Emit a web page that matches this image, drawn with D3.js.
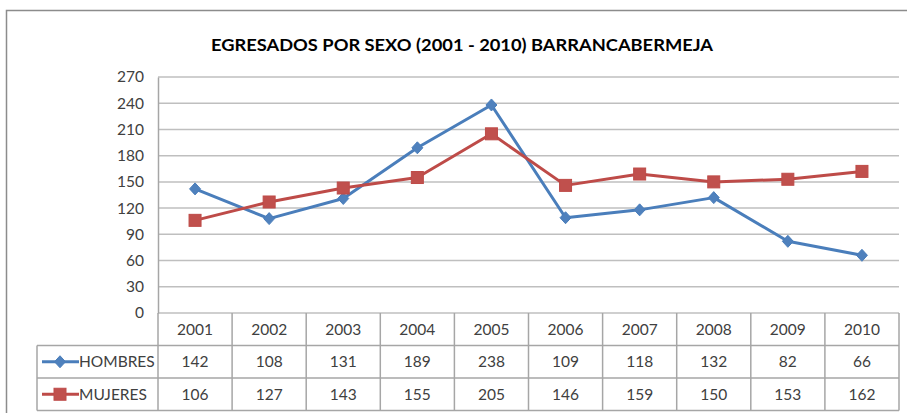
<!DOCTYPE html>
<html>
<head>
<meta charset="utf-8">
<script src="https://cdn.jsdelivr.net/npm/d3@7"></script>
<style>
  body { margin: 0; background: #fff; }
  svg { display: block; }
</style>
</head>
<body>
<div id="chart"></div>
<script>
// Data
const years = ['2001', '2002', '2003', '2004', '2005', '2006', '2007', '2008', '2009', '2010'];
const hombres = [142, 108, 131, 189, 238, 109, 118, 132, 82, 66];
const mujeres = [106, 127, 143, 155, 205, 146, 159, 150, 153, 162];
const yTicks = [0, 30, 60, 90, 120, 150, 180, 210, 240, 270];
const seriesNames = ['HOMBRES', 'MUJERES'];
const chartTitle = 'EGRESADOS POR SEXO (2001 - 2010) BARRANCABERMEJA';

const W = 907, H = 413;
const plot = { left: 158, right: 899, top: 77, bottom: 313 };
const rowH = 32.5;
const legendLeft = 37;
const font = 'Lato, "Open Sans", "Liberation Sans", sans-serif';
const labelSize = '15.5px';
const colors = { HOMBRES: '#4A7EBB', MUJERES: '#BE4B48' };
const fills = { HOMBRES: '#4F81BD', MUJERES: '#C0504D' };

const svg = d3.select('#chart').append('svg')
    .attr('width', W)
    .attr('height', H);

// outer chart frame
svg.append('rect')
    .attr('x', 6.5).attr('y', 10.5)
    .attr('width', W - 4).attr('height', H)
    .attr('fill', '#fff')
    .attr('stroke', '#8c8c8c')
    .attr('stroke-width', 1.5);

// title
svg.append('text')
    .attr('x', 462).attr('y', 51)
    .attr('text-anchor', 'middle')
    .attr('textLength', 502)
    .attr('lengthAdjust', 'spacingAndGlyphs')
    .style('font-family', font)
    .style('font-weight', 'bold')
    .style('font-size', '17px')
    .attr('fill', '#000')
    .text(chartTitle);

const x = d3.scaleBand()
    .domain(years)
    .range([plot.left, plot.right]);

const y = d3.scaleLinear()
    .domain([0, 270])
    .range([plot.bottom, plot.top]);

// gridlines
svg.append('g')
    .selectAll('line')
    .data(yTicks)
    .enter()
    .append('line')
    .attr('x1', plot.left).attr('x2', plot.right)
    .attr('y1', d => y(d)).attr('y2', d => y(d))
    .attr('stroke', '#BFBFBF')
    .attr('stroke-width', 1.5);

// y axis
const yAxis = svg.append('g')
    .attr('transform', `translate(${plot.left},0)`)
    .call(d3.axisLeft(y).tickValues(yTicks).tickSize(0).tickPadding(14));
yAxis.select('.domain').attr('stroke', '#A6A6A6').attr('stroke-width', 1.5);
yAxis.selectAll('text')
    .style('font-family', font)
    .style('font-size', labelSize)
    .attr('fill', '#404040');

// data table under the plot
const table = svg.append('g');
const tableBottom = plot.bottom + rowH * 3;

// horizontal lines
table.selectAll('.hline')
    .data([1, 2, 3])
    .enter()
    .append('line')
    .attr('x1', legendLeft).attr('x2', plot.right)
    .attr('y1', d => plot.bottom + rowH * d).attr('y2', d => plot.bottom + rowH * d)
    .attr('stroke', '#A6A6A6')
    .attr('stroke-width', 1.5);

// vertical lines at category boundaries
table.selectAll('.vline')
    .data(years.concat(['end']))
    .enter()
    .append('line')
    .attr('x1', (d, i) => i < years.length ? x(d) : plot.right)
    .attr('x2', (d, i) => i < years.length ? x(d) : plot.right)
    .attr('y1', plot.bottom).attr('y2', tableBottom)
    .attr('stroke', '#A6A6A6')
    .attr('stroke-width', 1.5);

table.append('line')
    .attr('x1', legendLeft).attr('x2', legendLeft)
    .attr('y1', plot.bottom + rowH).attr('y2', tableBottom)
    .attr('stroke', '#A6A6A6')
    .attr('stroke-width', 1.5);

// year labels
table.selectAll('.year')
    .data(years)
    .enter()
    .append('text')
    .attr('x', d => x(d) + x.bandwidth() / 2)
    .attr('y', plot.bottom + rowH / 2 + 5.5)
    .attr('text-anchor', 'middle')
    .style('font-family', font)
    .style('font-size', labelSize)
    .attr('fill', '#404040')
    .text(d => d);

const seriesData = [hombres, mujeres];

seriesData.forEach((vals, si) => {
    const name = seriesNames[si];
    const rowMid = plot.bottom + rowH * (si + 1) + rowH / 2;

    table.selectAll('.val' + si)
        .data(vals)
        .enter()
        .append('text')
        .attr('x', (d, i) => x(years[i]) + x.bandwidth() / 2)
        .attr('y', rowMid + 5.5)
        .attr('text-anchor', 'middle')
        .style('font-family', font)
        .style('font-size', labelSize)
        .attr('fill', '#404040')
        .text(d => d);

    // legend key
    table.append('line')
        .attr('x1', 42).attr('x2', 79)
        .attr('y1', rowMid).attr('y2', rowMid)
        .attr('stroke', colors[name])
        .attr('stroke-width', 3);
    drawMarker(table, name, 60, rowMid);

    table.append('text')
        .attr('x', 79)
        .attr('y', rowMid + 5.5)
        .style('font-family', font)
        .style('font-size', labelSize)
        .attr('fill', '#404040')
        .text(name);
});

// lines
const line = d3.line()
    .x((d, i) => x(years[i]) + x.bandwidth() / 2)
    .y(d => y(d));

seriesData.forEach((vals, si) => {
    const name = seriesNames[si];
    svg.append('path')
        .datum(vals)
        .attr('d', line)
        .attr('fill', 'none')
        .attr('stroke', colors[name])
        .attr('stroke-width', 3)
        .attr('stroke-linejoin', 'round');
});

seriesData.forEach((vals, si) => {
    const name = seriesNames[si];
    vals.forEach((v, i) => {
        drawMarker(svg, name, x(years[i]) + x.bandwidth() / 2, y(v));
    });
});

function drawMarker(g, name, cx, cy) {
    if (name === 'HOMBRES') {
        g.append('path')
            .attr('d', `M${cx},${cy - 6} L${cx + 5.5},${cy} L${cx},${cy + 6} L${cx - 5.5},${cy} Z`)
            .attr('fill', fills[name])
            .attr('stroke', colors[name])
            .attr('stroke-width', 1);
    } else {
        g.append('rect')
            .attr('x', cx - 6).attr('y', cy - 6)
            .attr('width', 12).attr('height', 12)
            .attr('fill', fills[name])
            .attr('stroke', colors[name])
            .attr('stroke-width', 1);
    }
}
</script>
</body>
</html>
